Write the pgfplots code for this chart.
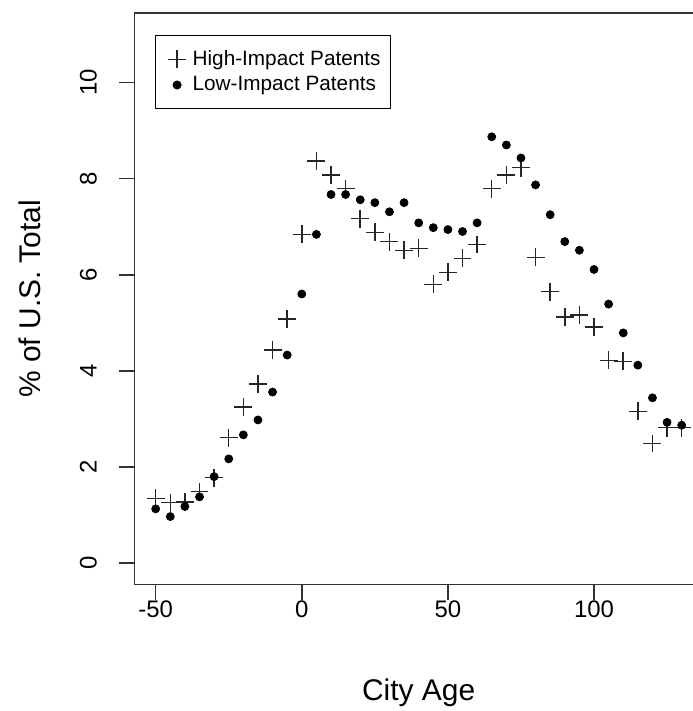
\documentclass[border=0pt]{standalone}
\usepackage{fontspec}
\setmainfont{Liberation Sans}
\usepackage{pgfplots}
\usepackage{pgfplotstable}
\pgfplotsset{compat=1.18}
\pgfplotstableread{
age high low
-50 1.35 1.13
-45 1.26 0.97
-40 1.27 1.18
-35 1.49 1.38
-30 1.78 1.80
-25 2.61 2.17
-20 3.25 2.67
-15 3.73 2.98
-10 4.43 3.56
-5 5.08 4.33
0 6.84 5.60
5 8.37 6.84
10 8.08 7.67
15 7.79 7.67
20 7.17 7.56
25 6.88 7.50
30 6.69 7.31
35 6.51 7.50
40 6.55 7.08
45 5.80 6.98
50 6.05 6.94
55 6.34 6.90
60 6.63 7.08
65 7.79 8.87
70 8.08 8.70
75 8.23 8.43
80 6.36 7.87
85 5.65 7.25
90 5.12 6.69
95 5.16 6.51
100 4.91 6.11
105 4.22 5.39
110 4.20 4.79
115 3.16 4.12
120 2.49 3.44
125 2.82 2.93
130 2.82 2.87
}\datatable
\begin{document}
\begin{tikzpicture}
\begin{axis}[
  scale only axis, width=284.8pt, height=286.3pt,
  xmin=-57.2, xmax=137.2, ymin=-0.44, ymax=11.44,
  axis line style={line width=0.8pt, black!80},
  xtick={-50,0,50,100}, xticklabels={-50,0,50,100},
  ytick={0,2,4,6,8,10}, yticklabels={0,2,4,6,8,10},
  xtick pos=left, ytick pos=left,
  tick align=outside, major tick length=8pt,
  tick style={line width=0.8pt, black!80},
  tick label style={font=\fontsize{12}{14}\selectfont},
  xticklabel style={anchor=base, yshift=-8.5pt},
  yticklabel style={rotate=90, anchor=base, yshift=11pt},
  xlabel={City Age}, ylabel={\% of U.S. Total},
  every axis x label/.style={at={(axis description cs:0.5,0)}, anchor=base, yshift=-58pt, font=\fontsize{15}{18}\selectfont},
  every axis y label/.style={at={(axis description cs:0,0.5)}, rotate=90, anchor=base, yshift=47pt, font=\fontsize{15}{18}\selectfont},
  legend style={at={(axis cs:-50.2,10.99)}, anchor=north west, draw=black, line width=0.5pt,
    font=\fontsize{10.4}{12.5}\selectfont, inner xsep=3pt, inner ysep=5.5pt, row sep=0pt},
  legend cell align=left,
  legend image code/.code={\path (0cm,0cm) (0.6cm-4pt,0cm); \draw[#1] plot coordinates {(0.3cm-1pt,0cm)};},
]
\coordinate (BL) at ([xshift=-67.5pt,yshift=-63.5pt]axis cs:-57.2,-0.44);
\coordinate (TR) at ([yshift=6.65pt]axis cs:133.7,11.44);
\addplot[only marks, mark=+, mark size=4.5pt, mark options={line width=0.75pt, black!85}] table[x=age, y=high] {\datatable};
\addlegendentry{High-Impact Patents}
\addplot[only marks, mark=*, mark size=2pt, mark options={black, fill=black}] table[x=age, y=low] {\datatable};
\addlegendentry{Low-Impact Patents}
\end{axis}
\pgfresetboundingbox
\useasboundingbox (BL) rectangle (TR);
\end{tikzpicture}
\end{document}
